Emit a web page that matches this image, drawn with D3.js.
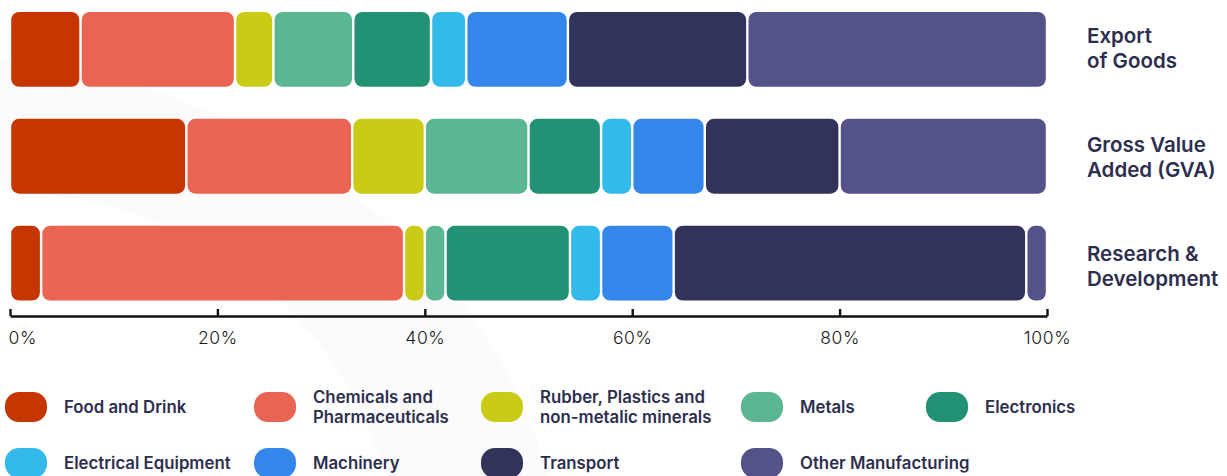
<!DOCTYPE html>
<html>
<head>
<meta charset="utf-8">
<script src="https://cdn.jsdelivr.net/npm/d3@7"></script>
<style>
  html, body { margin: 0; padding: 0; background: #ffffff; }
  svg { display: block; }
</style>
</head>
<body>
<svg id="chart" width="1227" height="476"></svg>
<script>
// ---------- DATA ----------
const categories = ["Export of Goods", "Gross Value Added (GVA)", "Research & Development"];
const categoryLines = [["Export", "of Goods"], ["Gross Value", "Added (GVA)"], ["Research &", "Development"]];
const sectors = ["Food and Drink", "Chemicals and Pharmaceuticals", "Rubber, Plastics and non-metalic minerals",
  "Metals", "Electronics", "Electrical Equipment", "Machinery", "Transport", "Other Manufacturing"];
const sectorLines = [["Food and Drink"], ["Chemicals and", "Pharmaceuticals"], ["Rubber, Plastics and", "non-metalic minerals"],
  ["Metals"], ["Electronics"], ["Electrical Equipment"], ["Machinery"], ["Transport"], ["Other Manufacturing"]];
const exportValues = [6.8, 14.9, 3.7, 7.7, 7.5, 3.4, 9.8, 17.3, 28.9];
const gvaValues    = [17, 16, 7, 10, 7, 3, 7, 13, 20];
const rdValues     = [3, 35, 2, 2, 12, 3, 7, 34, 2];
const tickValues = [0, 20, 40, 60, 80, 100];
const tickLabels = ["0%", "20%", "40%", "60%", "80%", "100%"];
const colors = ["#C63600", "#EA6454", "#CACB17", "#5BB791", "#239173", "#33BAEB", "#3586EA", "#31335A", "#535389"];

// ---------- LAYOUT ----------
const svg = d3.select("#chart");
const textColor = "#2D2E4E";
const FONT = "Inter, Lato, sans-serif";

// faint background swoosh
svg.append("path")
  .attr("d", "M0,58 C260,85 485,245 548,476 L386,476 C330,300 200,205 0,188 Z")
  .attr("fill", "#fbfbfb");

const x = d3.scaleLinear().domain([0, 100]).range([10, 1047]);
const y = d3.scaleBand().domain(categories).range([12, 300.5]).paddingInner(0.3).paddingOuter(0);
const labelY = d3.scalePoint().domain(categories).range([42.5, 260.5]);
const color = d3.scaleOrdinal().domain(sectors).range(colors);

const seriesValues = [exportValues, gvaValues, rdValues];
const rows = categories.map((c, i) => {
  const obj = { category: c };
  sectors.forEach((s, j) => obj[s] = seriesValues[i][j]);
  return obj;
});
const stacked = d3.stack().keys(sectors)(rows);

const inset = 1.2;
svg.append("g").selectAll("g")
  .data(stacked)
  .join("g")
  .attr("fill", d => color(d.key))
  .selectAll("rect")
  .data(d => d)
  .join("rect")
  .attr("x", d => x(d[0]) + inset)
  .attr("width", d => Math.max(0, x(d[1]) - x(d[0]) - 2 * inset))
  .attr("y", d => y(d.data.category))
  .attr("height", y.bandwidth())
  .attr("rx", 8).attr("ry", 8);

// axis
const axis = d3.axisBottom(x)
  .tickValues(tickValues)
  .tickSize(-7)
  .tickSizeOuter(0)
  .tickFormat((d, i) => tickLabels[i]);
const gAxis = svg.append("g").attr("transform", "translate(0,316)").call(axis);
gAxis.select(".domain").attr("stroke", "#111").attr("stroke-width", 2.6);
gAxis.selectAll(".tick line").attr("stroke", "#111").attr("stroke-width", 2.4);
gAxis.selectAll(".tick text")
  .attr("y", 28).attr("dy", 0)
  .attr("fill", "#1a1a1a")
  .style("font-family", FONT)
  .style("font-size", "17.5px")
  .style("font-weight", 300)
  .style("letter-spacing", "0.6px")
  .attr("text-anchor", (d, i) => i === 0 ? "start" : "middle")
  .attr("x", (d, i) => i === 0 ? -2 : 0);

// category labels
const cat = svg.append("g").selectAll("text")
  .data(categories)
  .join("text")
  .attr("x", 1087)
  .attr("y", d => labelY(d))
  .attr("fill", textColor)
  .style("font-family", FONT)
  .style("font-size", "20.5px")
  .style("font-weight", 600)
  .style("letter-spacing", "0px");
cat.selectAll("tspan")
  .data((d, i) => categoryLines[i])
  .join("tspan")
  .attr("x", 1087)
  .attr("dy", (d, i) => i === 0 ? 0 : 25.5)
  .text(d => d);

// legend
const colX = [5, 254, 481, 741, 926];
const rowY = [407, 463];
const perRow = 5;
const leg = svg.append("g").selectAll("g")
  .data(sectors)
  .join("g")
  .attr("transform", (d, i) => `translate(${colX[i % perRow]},${rowY[Math.floor(i / perRow)]})`);
leg.append("rect")
  .attr("x", 0).attr("y", -15)
  .attr("width", 42).attr("height", 30)
  .attr("rx", 14).attr("ry", 14)
  .attr("fill", d => color(d));
const lt = leg.append("text")
  .attr("x", 59)
  .attr("y", (d, i) => sectorLines[i].length > 1 ? -4 : 6)
  .attr("fill", textColor)
  .style("font-family", FONT)
  .style("font-size", "16.8px")
  .style("font-weight", 600)
  .style("letter-spacing", "0px");
lt.selectAll("tspan")
  .data((d, i) => sectorLines[i])
  .join("tspan")
  .attr("x", 59)
  .attr("dy", (d, i) => i === 0 ? 0 : 20)
  .text(d => d);
</script>
</body>
</html>
